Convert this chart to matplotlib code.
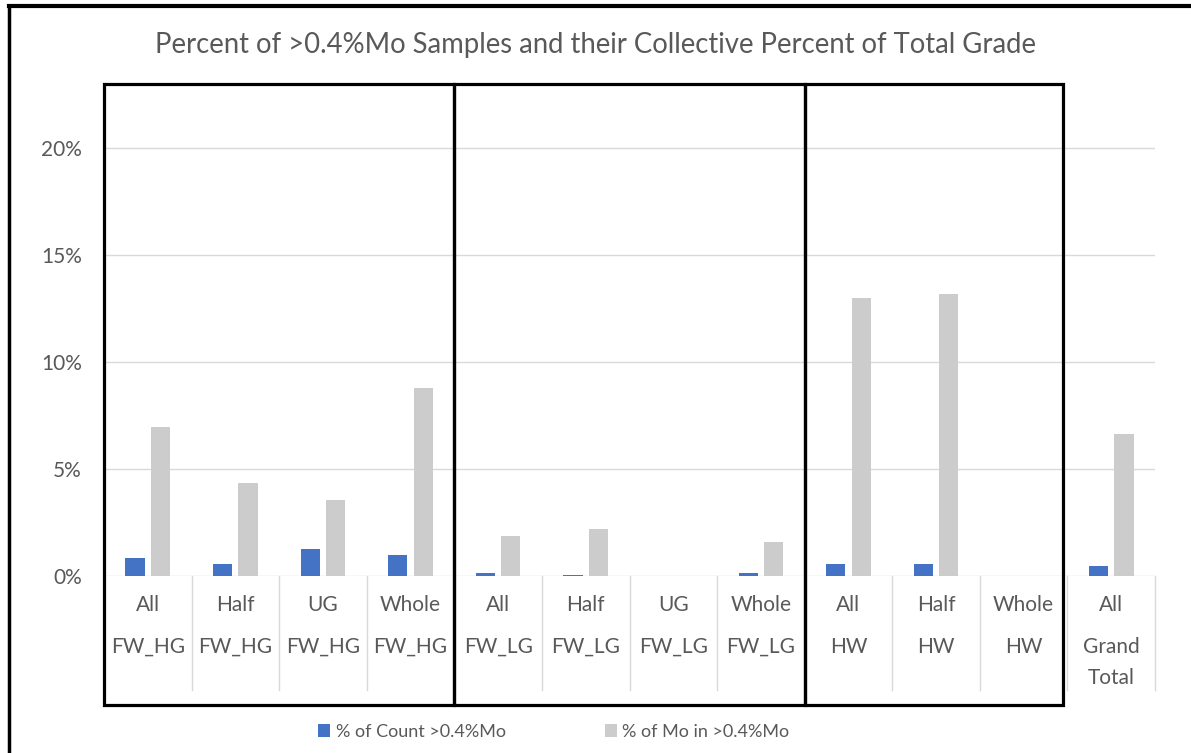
import matplotlib.pyplot as plt
import numpy as np
from matplotlib.lines import Line2D
from matplotlib.patches import Rectangle
from matplotlib.transforms import blended_transform_factory

plt.rcParams['font.family'] = ['Lato', 'DejaVu Sans']

# categories (two level axis, as in the Excel pivot chart)
sub_labels = ["All", "Half", "UG", "Whole", "All", "Half", "UG", "Whole",
              "All", "Half", "Whole", "All"]
group_labels = ["FW_HG", "FW_HG", "FW_HG", "FW_HG", "FW_LG", "FW_LG", "FW_LG", "FW_LG",
                "HW", "HW", "HW", "Grand\nTotal"]

# values in percent
count_pct = [0.85, 0.55, 1.25, 1.0, 0.14, 0.07, 0.0, 0.14, 0.55, 0.55, 0.0, 0.47]
mo_pct = [6.95, 4.35, 3.55, 8.8, 1.85, 2.2, 0.0, 1.6, 13.0, 13.2, 0.0, 6.65]

y_ticks = [0, 5, 10, 15, 20]

text_col = "#595959"
blue = "#4472C4"
grey = "#CCCCCC"

fig = plt.figure(figsize=(11.91, 7.53), dpi=100)
ax = fig.add_axes([104/1191, 177/753, 1051/1191, 481.5/753])

x = np.arange(len(sub_labels))
w = 0.22
ax.bar(x - 0.145, count_pct, w, color=blue, label="% of Count >0.4%Mo", zorder=3)
ax.bar(x + 0.145, mo_pct, w, color=grey, label="% of Mo in >0.4%Mo", zorder=3)

ax.set_xlim(-0.5, len(sub_labels) - 0.5)
ax.set_ylim(0, 22.5)
ax.set_yticks(y_ticks)
ax.set_yticklabels(["%d%%" % t for t in y_ticks])
ax.set_xticks([])
ax.tick_params(axis='y', length=0, pad=16, labelsize=15, labelcolor=text_col)
ax.grid(axis='y', color="#D9D9D9", linewidth=1, zorder=0)
for s in ax.spines.values():
    s.set_visible(False)

# category axis: separators and two rows of labels
trans = blended_transform_factory(ax.transData, ax.transAxes)
for b in np.arange(-0.5, len(sub_labels)):
    ax.plot([b, b], [0, -0.237], color="#D9D9D9", lw=1, transform=trans, clip_on=False)
for i in x:
    ax.text(i, -0.060, sub_labels[i], ha='center', va='center', fontsize=15,
            color=text_col, transform=trans)
    ax.text(i, -0.127, group_labels[i], ha='center', va='top', fontsize=15,
            color=text_col, transform=trans, linespacing=1.65)

# black boxes drawn around the groups
for x0, x1 in [(-0.5, 3.5), (3.5, 7.5), (7.5, 10.45)]:
    ax.add_patch(Rectangle((x0, -0.268), x1 - x0, 1.29, fill=False, edgecolor="black",
                           lw=2.3, transform=trans, clip_on=False, zorder=5))

fig.text(0.5, 0.940, "Percent of >0.4%Mo Samples and their Collective Percent of Total Grade",
         ha='center', va='center', fontsize=19.8, color=text_col)

fig.legend(loc='center', bbox_to_anchor=(0.465, 0.028), ncol=2, frameon=False,
           handlelength=0.65, handleheight=0.7, handletextpad=0.3, columnspacing=5.5,
           fontsize=13, labelcolor=text_col)

# outer frame of the pasted figure (only left and top are in view)
fig.add_artist(Line2D([9/1191, 9/1191], [0, 1 - 6/753], color="black", lw=2.5))
fig.add_artist(Line2D([9/1191, 1], [1 - 6/753, 1 - 6/753], color="black", lw=3))

fig.savefig("out.png", dpi=100)
